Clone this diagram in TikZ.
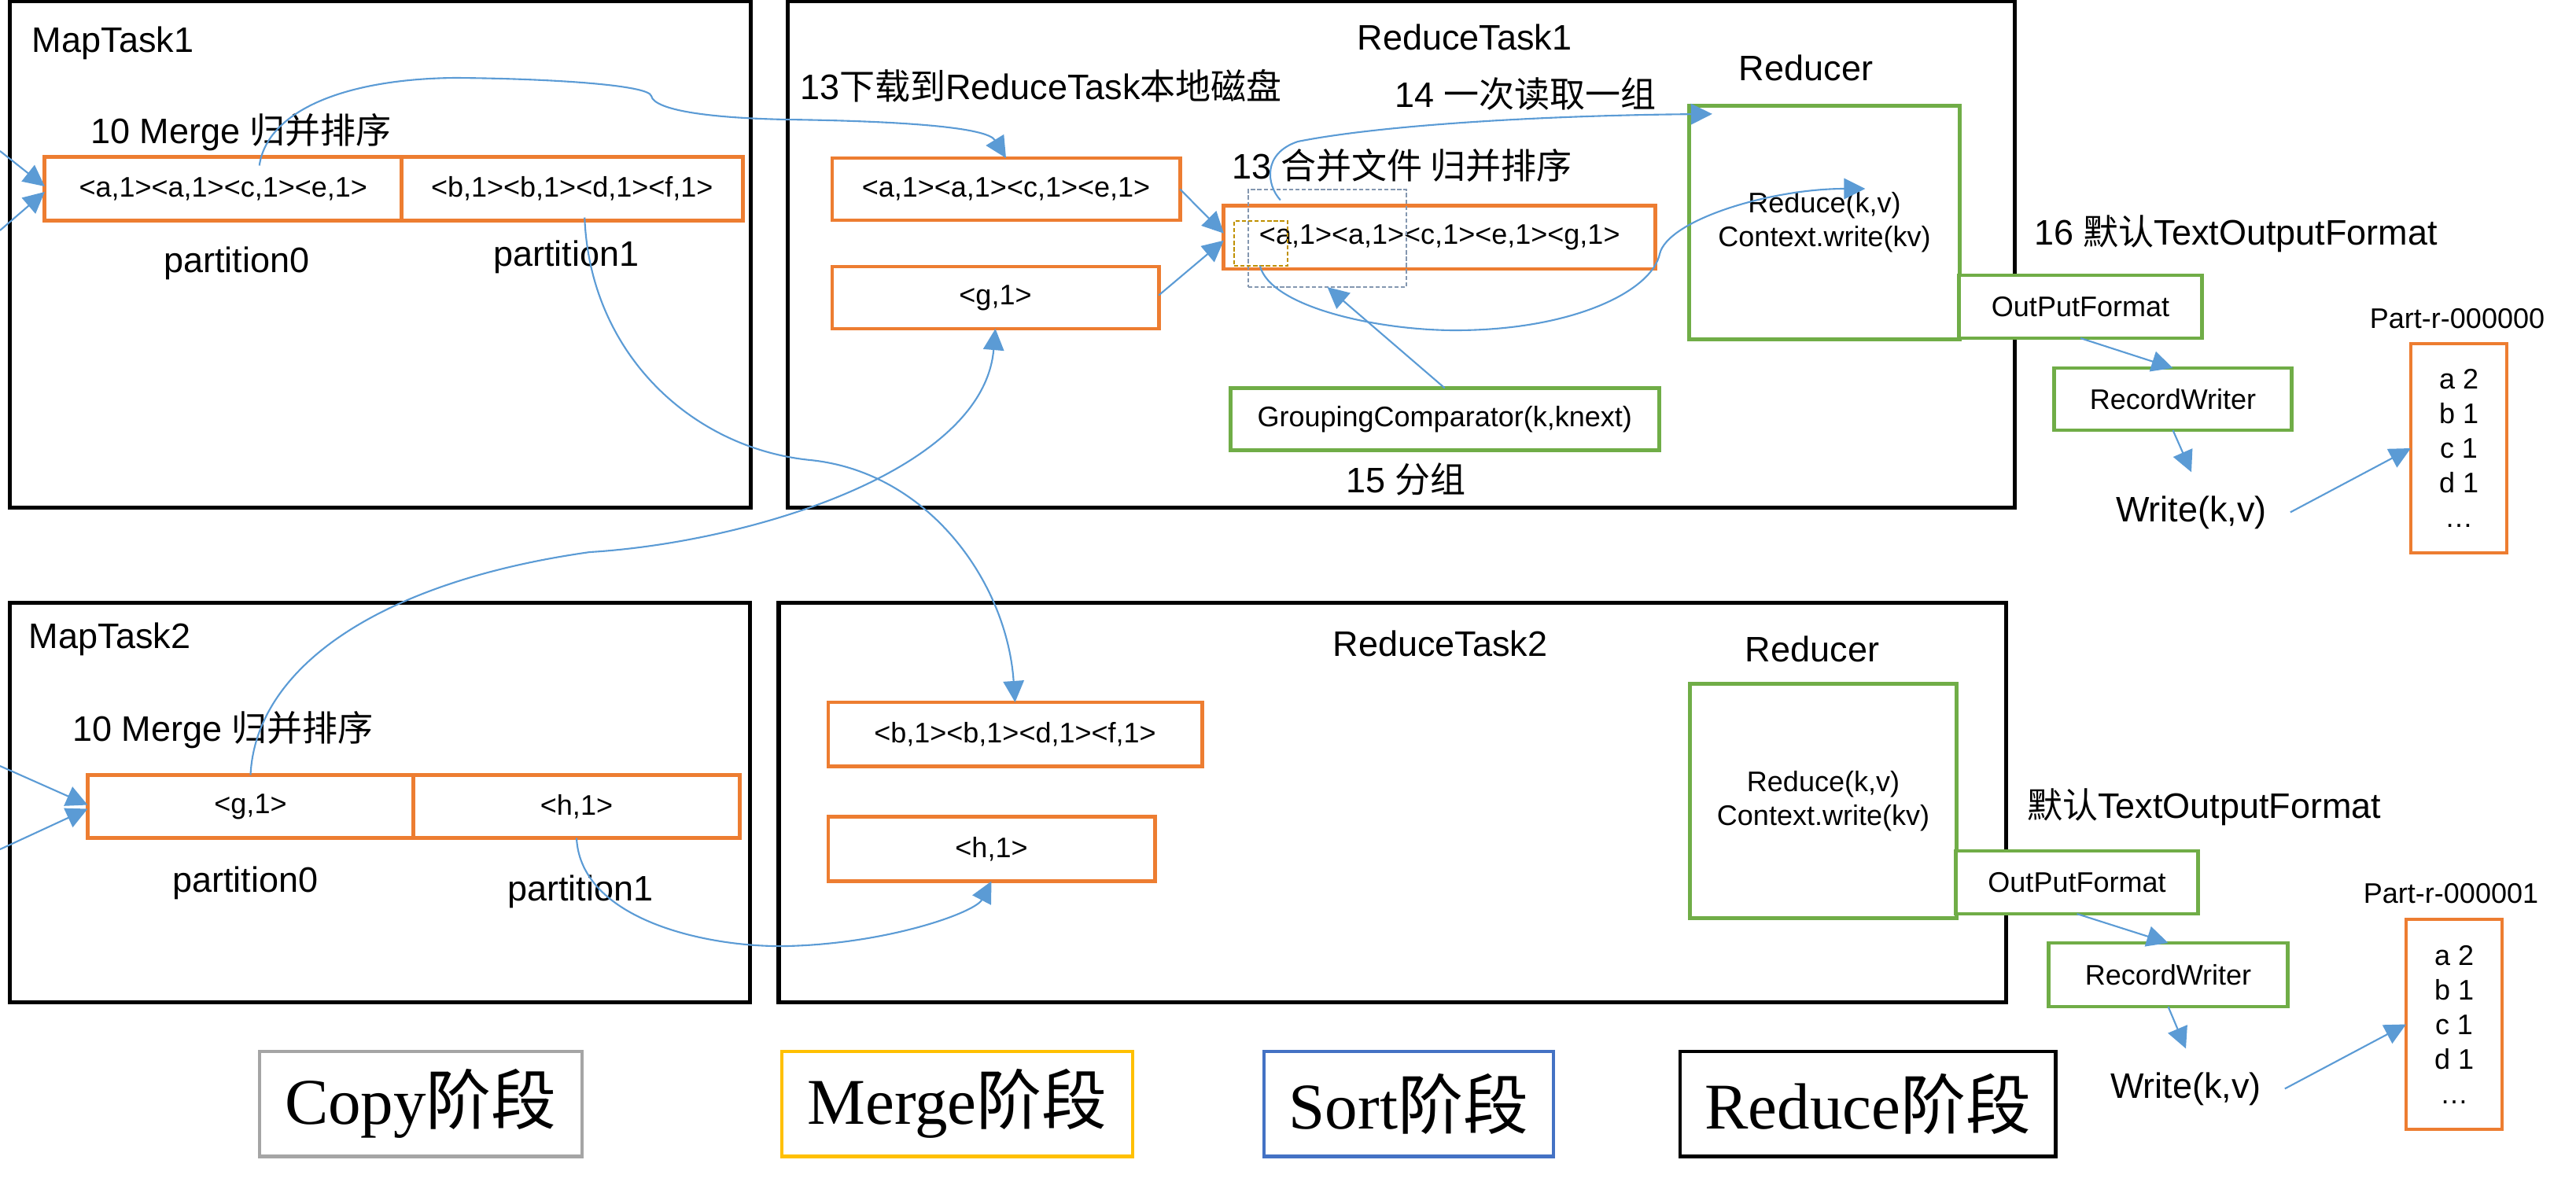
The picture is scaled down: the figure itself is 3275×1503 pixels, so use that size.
\documentclass[tikz,border=0pt]{standalone}
\usepackage{fontspec}
\setmainfont{Liberation Sans}
\newfontfamily\cjk{Noto Sans CJK SC}
\newfontfamily\serifrm{Liberation Serif}
\usetikzlibrary{arrows.meta,calc}
\definecolor{orng}{HTML}{ED7D31}
\definecolor{grn}{HTML}{70AD47}
\definecolor{lblue}{HTML}{5B9BD5}
\definecolor{gry}{HTML}{A5A5A5}
\definecolor{goldc}{HTML}{FFC000}
\definecolor{sblue}{HTML}{4472C4}
\definecolor{dgray}{HTML}{8497B0}
\definecolor{dgold}{HTML}{BF9000}
\begin{document}
\begin{tikzpicture}[x=0.01cm,y=-0.01cm,
  every node/.style={inner sep=0pt, outer sep=0pt},
  txtbig/.style={font=\fontsize{12.8}{15.4}\selectfont},
  txtsmall/.style={font=\fontsize{10.24}{12.3}\selectfont},
  task/.style={draw=black, line width=1.5pt},
  obox/.style={draw=orng, line width=1.35pt, txtsmall},
  gbox/.style={draw=grn, line width=1.4pt, txtsmall},
  phasebox/.style={line width=1.3pt, minimum height=1.335cm, font=\fontsize{23.6}{28}\selectfont},
  link/.style={draw=lblue, line width=0.6pt, -{Triangle[length=7.7pt,width=7.5pt]}},
  dbox/.style={line width=0.55pt, dash pattern=on 1.5pt off 0.8pt}
]
\useasboundingbox (0,0) rectangle (3275,1503);

% ---------- task frames ----------
\node[task, minimum width=9.41cm, minimum height=6.43cm] (mt1) at (483.5,323.5) {};
\node[task, minimum width=15.59cm, minimum height=6.43cm] (rt1) at (1781.5,323.5) {};
\node[task, minimum width=9.40cm, minimum height=5.075cm] (mt2) at (483,1020.25) {};
\node[task, minimum width=15.595cm, minimum height=5.075cm] (rt2) at (1770.25,1020.25) {};

% ---------- titles ----------
\node[txtbig, anchor=base west] (tmt1) at (41,67) {MapTask1};
\node[txtbig, anchor=base west] (tmt2) at (37,824) {MapTask2};
\node[txtbig, anchor=base] (trt1) at (1862,64) {ReduceTask1};
\node[txtbig, anchor=base] (trt2) at (1831,834) {ReduceTask2};
\node[txtbig, anchor=base] (tred1) at (2296,103) {Reducer};
\node[txtbig, anchor=base] (tred2) at (2304,841) {Reducer};

% ---------- map task 1 ----------
\node[txtbig, anchor=base west] (mg1) at (115,183) {10 Merge {\cjk 归并排序}};
\node[obox, minimum width=4.535cm, minimum height=0.81cm] (p10) at (283.75,240) {<a,1><a,1><c,1><e,1>};
\node[obox, minimum width=4.335cm, minimum height=0.81cm] (p11) at (727.25,240) {<b,1><b,1><d,1><f,1>};
\node[txtbig, anchor=base] (pa10) at (301,347) {partition0};
\node[txtbig, anchor=base] (pa11) at (720,338) {partition1};

% ---------- map task 2 ----------
\node[txtbig, anchor=base west] (mg2) at (92,942) {10 Merge {\cjk 归并排序}};
\node[obox, minimum width=4.14cm, minimum height=0.80cm] (p20) at (318.5,1025.5) {<g,1>};
\node[obox, minimum width=4.15cm, minimum height=0.80cm] (p21) at (733,1025.5) {<h,1>};
\node[txtbig, anchor=base] (pa20) at (312,1134) {partition0};
\node[txtbig, anchor=base] (pa21) at (738,1145) {partition1};

% ---------- reduce task 1 ----------
\node[txtbig, anchor=base west] (l13a) at (1017,127) {13{\cjk 下载到}ReduceTask{\cjk 本地磁盘}};
\node[txtbig, anchor=base west] (l14) at (1773,137) {14 {\cjk 一次读取一组}};
\node[txtbig, anchor=base west] (l13b) at (1566,228) {13 {\cjk 合并文件 归并排序}};
\node[txtbig, anchor=base west] (l15) at (1711,626) {15 {\cjk 分组}};
\node[obox, minimum width=4.42cm, minimum height=0.79cm] (b1) at (1279,240.5) {<a,1><a,1><c,1><e,1>};
\node[obox, minimum width=4.15cm, minimum height=0.79cm] (g1) at (1265.5,378.5) {<g,1>};
\node[obox, minimum width=5.485cm, minimum height=0.805cm] (mg) at (1830.25,301.75) {<a,1><a,1><c,1><e,1><g,1>};
\node[draw=dgray, dbox, minimum width=2.01cm, minimum height=1.24cm] (grp) at (1687.5,303) {};
\node[draw=dgold, dbox, minimum width=0.68cm, minimum height=0.57cm] (key) at (1603,309.5) {};
\node[gbox, minimum width=5.445cm, minimum height=0.79cm] (gc) at (1836.75,533) {GroupingComparator(k,knext)};

% ---------- reducer 1 and output ----------
\node[gbox, minimum width=3.43cm, minimum height=2.96cm, align=center] (red1) at (2319.5,283) {Reduce(k,v)\\Context.write(kv)};
\node[gbox, fill=white, minimum width=3.08cm, minimum height=0.80cm] (opf1) at (2645,390) {OutPutFormat};
\node[gbox, minimum width=3.01cm, minimum height=0.79cm] (rw1) at (2762.5,507.5) {RecordWriter};
\node[txtbig, inner sep=0.3cm, anchor=base] (w1) at (2786,663) {Write(k,v)};
\node[obox, minimum width=1.22cm, minimum height=2.66cm, align=center, font=\fontsize{10.24}{12.5}\selectfont] (part1) at (3126,570) {a 2\\b 1\\c 1\\d 1\\…};
\node[txtsmall, anchor=base] (pl1) at (3124,417) {Part-r-000000};
\node[txtbig, anchor=base west] (t16) at (2586,311) {16 {\cjk 默认}TextOutputFormat};

% ---------- reduce task 2 ----------
\node[obox, minimum width=4.75cm, minimum height=0.815cm] (bb) at (1290.5,933.75) {<b,1><b,1><d,1><f,1>};
\node[obox, minimum width=4.15cm, minimum height=0.82cm] (hh) at (1260.5,1079.5) {<h,1>};

% ---------- reducer 2 and output ----------
\node[gbox, minimum width=3.38cm, minimum height=2.97cm, align=center] (red2) at (2318,1018.5) {Reduce(k,v)\\Context.write(kv)};
\node[gbox, fill=white, minimum width=3.07cm, minimum height=0.80cm] (opf2) at (2640.5,1122) {OutPutFormat};
\node[gbox, minimum width=3.03cm, minimum height=0.81cm] (rw2) at (2756.5,1239.5) {RecordWriter};
\node[txtbig, inner sep=0.3cm, anchor=base] (w2) at (2779,1396) {Write(k,v)};
\node[obox, minimum width=1.22cm, minimum height=2.67cm, align=center, font=\fontsize{10.24}{12.5}\selectfont] (part2) at (3120,1302.5) {a 2\\b 1\\c 1\\d 1\\…};
\node[txtsmall, anchor=base] (pl2) at (3116,1148) {Part-r-000001};
\node[txtbig, anchor=base west] (tdef) at (2577,1040) {{\cjk 默认}TextOutputFormat};

% ---------- phase legend ----------
\node[phasebox, draw=gry, minimum width=4.10cm] (ph1) at (535,1403.75) {{\serifrm Copy}{\cjk 阶段}};
\node[phasebox, draw=goldc, minimum width=4.46cm] (ph2) at (1217,1403.75) {{\serifrm Merge}{\cjk 阶段}};
\node[phasebox, draw=sblue, minimum width=3.68cm] (ph3) at (1791,1403.75) {{\serifrm Sort}{\cjk 阶段}};
\node[phasebox, draw=black, minimum width=4.775cm] (ph4) at (2374.75,1403.75) {{\serifrm Reduce}{\cjk 阶段}};

% ---------- connectors ----------
\coordinate (ina) at (0,192);
\coordinate (inb) at (0,293);
\coordinate (inc) at (0,974);
\coordinate (ind) at (0,1080);
\draw[link] (ina) -- ($(p10.west)+(0,-3)$);
\draw[link] (inb) -- ($(p10.west)+(0,4)$);
\draw[link] (inc) -- ($(p20.west)+(0,-2)$);
\draw[link] (ind) -- ($(p20.west)+(0,3)$);

% partition0 of map 1 -> reduce 1
\draw[link] ($(p10.north)+(46,11)$) .. controls (340,140) and (440,100) .. (580,99)
  .. controls (700,100) and (825,108) .. (828,122)
  .. controls (832,140) and (900,150) .. (1000,152)
  .. controls (1150,154) and (1255,162) .. (b1.north);
% partition1 of map 1 -> reduce 2
\draw[link] ($(p11.south)+(16,-4)$) .. controls (750,450) and (880,570) .. (1030,585)
  .. controls (1180,600) and (1280,740) .. (bb.north);
% partition0 of map 2 -> reduce 1
\draw[link] (p20.north) .. controls (325,850) and (480,740) .. (750,702)
  .. controls (950,690) and (1250,600) .. (g1.south);
% partition1 of map 2 -> reduce 2
\draw[link] (p21.south) .. controls (738,1170) and (900,1205) .. (1000,1203)
  .. controls (1130,1200) and (1240,1160) .. (hh.south);

% merge inside reduce task 1
\draw[link] (b1.east) -- ($(mg.west)+(0,-5)$);
\draw[link] ($(g1.east)+(0,-3)$) -- ($(mg.west)+(0,4)$);
\draw[link] (gc.north) -- (grp.south);

% read one group -> reducer
\draw[link] ($(mg.north west)+(72,-7)$) .. controls (1610,235) and (1605,195) .. (1650,180)
  .. controls (1750,160) and (1950,147) .. ($(red1.north west)+(29,10)$);
\draw[link] ($(mg.south west)+(46,-4)$) .. controls (1615,390) and (1750,420) .. (1850,420)
  .. controls (2000,420) and (2100,370) .. (2110,323)
  .. controls (2120,280) and (2250,240) .. ($(red1.center)+(52,-43)$);

% output chain 1
\draw[link] (opf1.south) -- (rw1.north);
\draw[link] (rw1.south) -- (w1.north);
\draw[link] (w1.east) -- (part1.west);
% output chain 2
\draw[link] (opf2.south) -- (rw2.north);
\draw[link] (rw2.south) -- (w2.north);
\draw[link] (w2.east) -- (part2.west);
\end{tikzpicture}
\end{document}
